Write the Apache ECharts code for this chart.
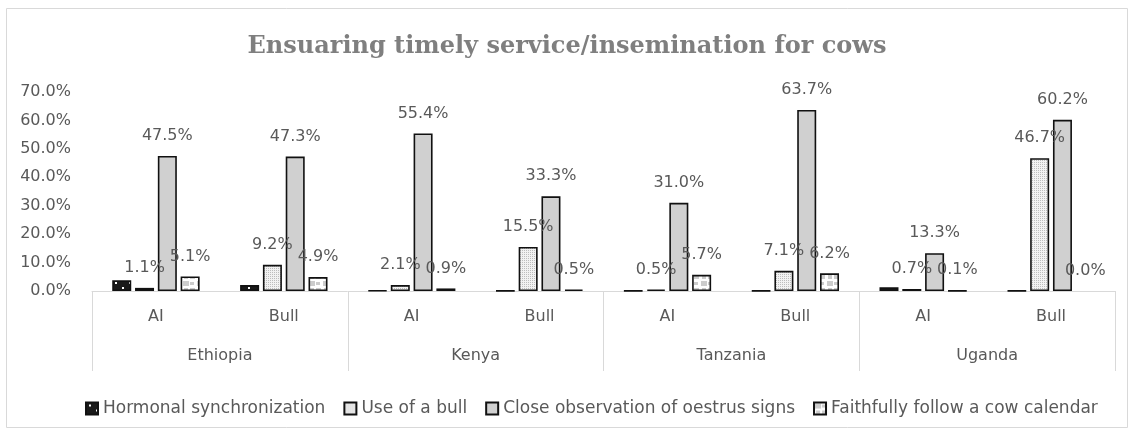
<!DOCTYPE html>
<html>
<head>
<meta charset="utf-8">
<title>Ensuaring timely service/insemination for cows</title>
<script src="https://cdn.jsdelivr.net/npm/echarts@6/dist/echarts.min.js"></script>
<style>
  html, body { margin: 0; padding: 0; background: #fff; }
  #chart { width: 1134px; height: 434px; }
</style>
</head>
<body>
<div id="chart"></div>
<script>
// data (percent)
var countries = ['Ethiopia', 'Kenya', 'Tanzania', 'Uganda'];
var methods = ['AI', 'Bull', 'AI', 'Bull', 'AI', 'Bull', 'AI', 'Bull'];
var seriesNames = ['Hormonal synchronization', 'Use of a bull', 'Close observation of oestrus signs', 'Faithfully follow a cow calendar'];
var hormonal = [3.8, 2.1, 0.2, 0.1, 0.1, 0.1, 1.3, 0.1];
var useOfBull = [1.1, 9.2, 2.1, 15.5, 0.5, 7.1, 0.7, 46.7];
var closeObservation = [47.5, 47.3, 55.4, 33.3, 31.0, 63.7, 13.3, 60.2];
var cowCalendar = [5.1, 4.9, 0.9, 0.5, 5.7, 6.2, 0.1, 0.0];
var yTicks = [0, 10, 20, 30, 40, 50, 60, 70];

// small pattern tiles, like the Excel fills
function tile(w, h, bg, fg, cells) {
    var c = document.createElement('canvas');
    c.width = w; c.height = h;
    var ctx = c.getContext('2d');
    ctx.fillStyle = bg;
    ctx.fillRect(0, 0, w, h);
    ctx.fillStyle = fg;
    cells.forEach(function (r) { ctx.fillRect(r[0], r[1], r[2], r[3]); });
    return { image: c, repeat: 'repeat' };
}
var patHormonal = tile(14, 10, '#1a1a1a', '#ffffff', [[3, 2, 2, 2], [10, 7, 2, 2]]);
var patBull = tile(4, 4, '#f2f2f2', '#bdbdbd', [[0, 0, 1, 1], [2, 2, 1, 1], [2, 0, 1, 1], [0, 2, 1, 1]]);
var patCalendar = tile(14, 14, '#ffffff', '#cccccc', [[1, 1, 6, 5], [8, 2, 4, 3], [2, 8, 4, 5], [8, 8, 5, 5]]);

var font = '"DejaVu Sans", "Noto Sans", sans-serif';
var labelGray = '#595959';

function makeSeries(name, values, fill, withLabel) {
    return {
        name: name,
        type: 'bar',
        barWidth: 19,
        barGap: '20%',
        data: values.map(function (v) {
            return v === 0 ? { value: v, itemStyle: { borderWidth: 0 } } : v;
        }),
        itemStyle: { color: fill, borderColor: '#111', borderWidth: 1.6 },
        label: {
            show: withLabel,
            position: 'top',
            distance: 12,
            color: labelGray,
            fontSize: 16,
            fontFamily: font,
            formatter: function (p) { return p.value.toFixed(1) + '%'; }
        }
    };
}

var chart = echarts.init(document.getElementById('chart'));
chart.setOption({
    animation: false,
    graphic: [{
        type: 'rect',
        shape: { x: 6.5, y: 8.5, width: 1121, height: 419 },
        style: { fill: 'none', stroke: '#d9d9d9', lineWidth: 1 },
        silent: true
    }],
    title: {
        text: 'Ensuaring timely service/insemination for cows',
        left: 'center',
        top: 30,
        textStyle: {
            fontFamily: '"DejaVu Serif", "Liberation Serif", serif',
            fontWeight: 'bold',
            fontSize: 24,
            color: '#7f7f7f'
        }
    },
    legend: {
        data: seriesNames,
        left: 80,
        top: 395,
        itemWidth: 12,
        itemHeight: 12,
        itemGap: 18,
        icon: 'rect',
        textStyle: { fontSize: 17, color: labelGray, fontFamily: font }
    },
    grid: [
        { left: 92, right: 19, top: 92, bottom: 143 },
        { left: 92, right: 19, top: 92, bottom: 143 }
    ],
    xAxis: [{
        type: 'category',
        gridIndex: 0,
        data: methods,
        axisLine: { lineStyle: { color: '#d9d9d9', width: 1 } },
        axisTick: { show: false },
        axisLabel: { margin: 18, fontSize: 16, color: labelGray, fontFamily: font }
    }, {
        type: 'category',
        gridIndex: 1,
        position: 'bottom',
        data: countries,
        axisLine: { show: false },
        axisTick: { show: true, length: 80, interval: 0, lineStyle: { color: '#d9d9d9' } },
        axisLabel: { margin: 57, fontSize: 16, color: labelGray, fontFamily: font }
    }],
    yAxis: [{
        type: 'value',
        gridIndex: 0,
        min: yTicks[0],
        max: yTicks[yTicks.length - 1],
        interval: 10,
        splitLine: { show: false },
        axisLine: { show: false },
        axisTick: { show: false },
        axisLabel: {
            margin: 21,
            fontSize: 16,
            color: labelGray,
            fontFamily: font,
            formatter: function (v) { return v.toFixed(1) + '%'; }
        }
    }, {
        type: 'value',
        gridIndex: 1,
        min: 0,
        max: 70,
        show: false
    }],
    series: [
        makeSeries(seriesNames[0], hormonal, patHormonal, false),
        makeSeries(seriesNames[1], useOfBull, patBull, true),
        makeSeries(seriesNames[2], closeObservation, '#d0d0d0', true),
        makeSeries(seriesNames[3], cowCalendar, patCalendar, true)
    ]
});
</script>
</body>
</html>
